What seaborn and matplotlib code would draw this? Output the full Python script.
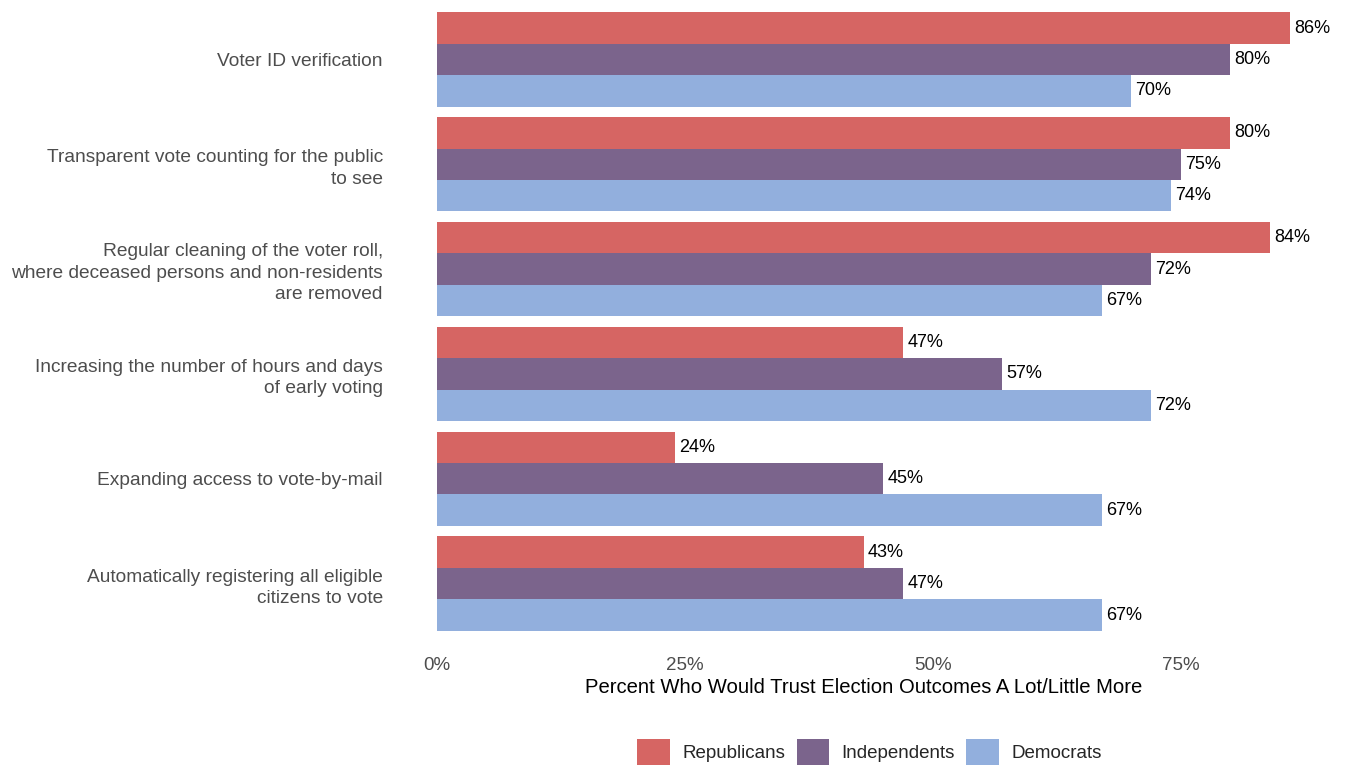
import pandas as pd
import matplotlib.pyplot as plt
import seaborn as sns

sns.set_theme(style="white")
plt.rcParams['font.family'] = ['Liberation Sans', 'DejaVu Sans']

# Données
measures = [
    "Voter ID verification",
    "Transparent vote counting for the public\nto see",
    "Regular cleaning of the voter roll,\nwhere deceased persons and non-residents\nare removed",
    "Increasing the number of hours and days\nof early voting",
    "Expanding access to vote-by-mail",
    "Automatically registering all eligible\ncitizens to vote",
]
parties = ["Republicans", "Independents", "Democrats"]
republicans = [86, 80, 84, 47, 24, 43]
independents = [80, 75, 72, 57, 45, 47]
democrats = [70, 74, 67, 72, 67, 67]
colors = ["#d66563", "#7b648c", "#92afdd"]

df = pd.DataFrame({
    "Measure": measures * 3,
    "Party": [p for p in parties for _ in measures],
    "Pct": republicans + independents + democrats,
})

fs = 13.5

fig = plt.figure(figsize=(13.46, 7.66), dpi=100)
# panneau de 0% à 86% (pas d'expansion), étiquettes hors panneau
ax = fig.add_axes([437 / 1346, 0.1697, 853 / 1346, 0.8211])

sns.barplot(data=df, y="Measure", x="Pct", hue="Party", hue_order=parties,
            order=measures, palette=colors, orient="h", width=0.9,
            saturation=1, linewidth=0, ax=ax, legend=True)

for cont in ax.containers:
    txts = ax.bar_label(cont, labels=[f"{int(v)}%" for v in cont.datavalues],
                        padding=3, fontsize=13, color="black")
    for t in txts:
        t.set_clip_on(False)

ax.set_xlim(0, 86)
ax.set_ylim(5.5, -0.5)
ax.set_xticks([0, 25, 50, 75])
ax.set_xticklabels(["0%", "25%", "50%", "75%"])
ax.set_xlabel("Percent Who Would Trust Election Outcomes A Lot/Little More",
              fontsize=14.6, color="black", labelpad=3)
ax.set_ylabel("")
ax.tick_params(axis="y", length=0, pad=39, labelsize=13.8, labelcolor="#4d4d4d")
ax.tick_params(axis="x", length=0, pad=15, labelsize=fs, labelcolor="#4d4d4d")
for lbl in ax.get_yticklabels():
    lbl.set_horizontalalignment("right")
    lbl.set_linespacing(1.33)
for s in ax.spines.values():
    s.set_visible(False)
ax.grid(False)

handles, labels = ax.get_legend_handles_labels()
ax.get_legend().remove()
fig.legend(handles, labels, loc="center", bbox_to_anchor=(0.646, 0.018),
           ncol=3, frameon=False, fontsize=fs, handlelength=1.75,
           handleheight=1.75, handletextpad=0.65, columnspacing=0.6)

plt.savefig("out.png", dpi=100)
plt.close()
